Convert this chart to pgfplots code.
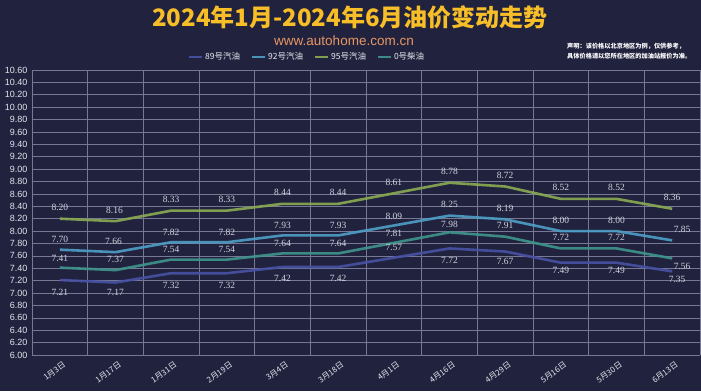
\documentclass[border=0pt]{standalone}
\usepackage{fontspec}
\setmainfont{Liberation Sans}
\newfontfamily\cjk{Noto Sans CJK SC}
\newfontfamily\numserif{Liberation Serif}
\usepackage{pgfplots}
\pgfplotsset{compat=1.18}
\usepackage{pgfplotstable}
\definecolor{bg}{RGB}{33,35,62}
\definecolor{gridc}{RGB}{118,120,148}
\definecolor{cA}{RGB}{72,82,165}
\definecolor{cB}{RGB}{78,160,200}
\definecolor{cC}{RGB}{140,172,82}
\definecolor{cD}{RGB}{62,150,140}
\definecolor{titley}{RGB}{247,190,40}
\definecolor{subc}{RGB}{232,150,100}
\definecolor{lab}{RGB}{228,229,238}

\pgfplotstableread{
x y dx dy
0 7.21 0 -12
1 7.17 0 -10
2 7.32 0 -12
3 7.32 0 -12
4 7.42 0 -11
5 7.42 0 -11
6 7.57 0 10
7 7.72 0 -12
8 7.67 0 -10
9 7.49 0 -8
10 7.49 0 -8
11 7.35 5 -8
}\tA
\pgfplotstableread{
x y dx dy
0 7.70 0 10
1 7.66 -2 11
2 7.82 0 10
3 7.82 0 10
4 7.93 0 10
5 7.93 0 10
6 8.09 0 9
7 8.25 0 11
8 8.19 0 11
9 8.00 0 11
10 8.00 0 11
11 7.85 10 11
}\tB
\pgfplotstableread{
x y dx dy
0 8.20 0 11
1 8.16 -1 11
2 8.33 0 11
3 8.33 0 11
4 8.44 0 11
5 8.44 0 11
6 8.61 0 11
7 8.78 0 11
8 8.72 0 11
9 8.52 0 11
10 8.52 0 11
11 8.36 0 11
}\tC
\pgfplotstableread{
x y dx dy
0 7.41 0 9
1 7.37 0 11
2 7.54 0 10
3 7.54 0 10
4 7.64 0 10
5 7.64 0 10
6 7.81 0 9
7 7.98 0 8
8 7.91 0 11
9 7.72 0 11
10 7.72 0 11
11 7.56 10 -8
}\tD

\begin{document}
\begin{tikzpicture}
\path[use as bounding box] (0,0) rectangle (701pt,391pt);
\fill[bg] (0,0) rectangle (701pt,391pt);
\node[font=\cjk\bfseries\fontsize{24}{24}\selectfont, text=titley] at (350pt,374pt) {2024年1月-2024年6月油价变动走势};
\node[font=\fontsize{13.5}{13.5}\selectfont, text=subc] at (344pt,350pt) {www.autohome.com.cn};
\node[anchor=north west, align=left, inner sep=0pt, font=\cjk\bfseries\fontsize{6.2}{10}\selectfont, text=white] at (567pt,348pt) {声明：该价格以北京地区为例，仅供参考，\\具体价格请以您所在地区的加油站报价为准。};
\begin{axis}[
  at={(32pt,36pt)}, anchor=south west,
  scale only axis, width=668pt, height=285pt,
  xmin=-0.5, xmax=11.5, ymin=6, ymax=10.6,
  xtick={0,...,11},
  xticklabels={1月3日,1月17日,1月31日,2月19日,3月4日,3月18日,4月1日,4月16日,4月29日,5月16日,5月30日,6月13日},
  minor xtick={-0.5,0.5,...,11.5},
  ytick distance=0.2,
  xmajorgrids=false, xminorgrids=true, ymajorgrids=true,
  grid style={gridc, line width=0.6pt},
  minor grid style={gridc, line width=0.6pt},
  axis line style={gridc, line width=0.8pt},
  axis x line*=bottom, axis y line*=left,
  major tick length=0pt, minor tick length=0pt,
  ytick style={draw=none},
  yticklabel style={font=\fontsize{9}{9}\selectfont, text=lab, xshift=-1pt},
  xticklabel style={font=\cjk\fontsize{8}{8}\selectfont, text=lab, rotate=36, anchor=north east, xshift=2pt, yshift=-3pt},
  /pgf/number format/.cd, fixed, fixed zerofill, precision=2, assume math mode=true,
  /pgfplots/.cd,
  legend style={at={(0.412,1.046)}, anchor=center, legend columns=4, draw=none, fill=none,
    font=\cjk\fontsize{8.5}{8.5}\selectfont, text=lab!85, inner sep=0pt,
    /tikz/every even column/.append style={column sep=9pt}},
  legend image code/.code={\draw[#1, line width=2pt] (0pt,0pt) -- (13pt,0pt);},
  every axis plot/.append style={line width=2.6pt, mark=none, line join=round,
    nodes near coords={\pgfmathprintnumber[fixed,fixed zerofill,precision=2]{\pgfplotspointmeta}},
    point meta=y,
    visualization depends on={\thisrow{dx}\as\dx},
    visualization depends on={\thisrow{dy}\as\dy},
    nodes near coords style={anchor=center, xshift=\dx pt, yshift=\dy pt, text=lab,
      font=\numserif\fontsize{9.5}{9.5}\selectfont}},
]
\addplot[cA, opacity=0.9] table[x=x,y=y] {\tA};
\addlegendentry{89号汽油}
\addplot[cB, opacity=0.9] table[x=x,y=y] {\tB};
\addlegendentry{92号汽油}
\addplot[cC, opacity=0.9] table[x=x,y=y] {\tC};
\addlegendentry{95号汽油}
\addplot[cD, opacity=0.9] table[x=x,y=y] {\tD};
\addlegendentry{0号柴油}
\end{axis}
\end{tikzpicture}
\end{document}
